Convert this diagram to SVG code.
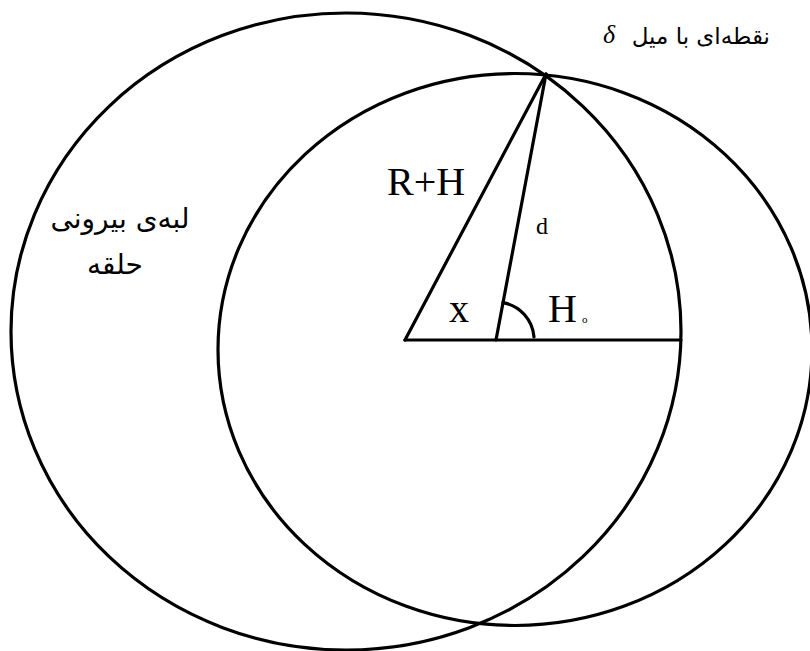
<svg xmlns="http://www.w3.org/2000/svg" width="810" height="651" viewBox="0 0 810 651">
<style>
.ln{fill:none;stroke:#000;stroke-width:3.2;stroke-linecap:round;stroke-linejoin:round}
.ser{font-family:"Liberation Serif","Times New Roman",serif;fill:#000}
.fa{font-family:"DejaVu Sans","Noto Sans",sans-serif;fill:#000}
</style>
<rect width="810" height="651" fill="#fff"/>
<g id="outer-ring">
<ellipse class="ln" cx="346" cy="331.5" rx="335" ry="318.5"/>
</g>
<g id="inner-ring">
<ellipse class="ln" cx="515" cy="349.5" rx="297" ry="276"/>
</g>
<g id="connectors">
<line class="ln" x1="405" y1="340" x2="681" y2="340"/>
<line class="ln" x1="405" y1="340" x2="546" y2="74"/>
<line class="ln" x1="496" y1="340" x2="546" y2="74"/>
<path class="ln" d="M503 302.6 A38 38 0 0 1 534 337"/>
</g>
<g id="labels">
<text class="ser" x="387" y="195" font-size="40">R+H</text>
<text class="ser" x="536" y="234" font-size="24">d</text>
<text class="ser" x="449" y="322" font-size="40">x</text>
<text class="ser" x="548" y="322" font-size="40">H<tspan font-size="11" dx="5" dy="1">o</tspan></text>
<text class="fa" x="770" y="44" font-size="23" text-anchor="end">نقطه‌ای با میل</text>
<text class="ser" x="603" y="43" font-size="26" font-style="italic">δ</text>
<text class="fa" x="120" y="228" font-size="28" text-anchor="middle">لبه‌ی بیرونی</text>
<text class="fa" x="115" y="274" font-size="28" text-anchor="middle">حلقه</text>
</g>
</svg>
